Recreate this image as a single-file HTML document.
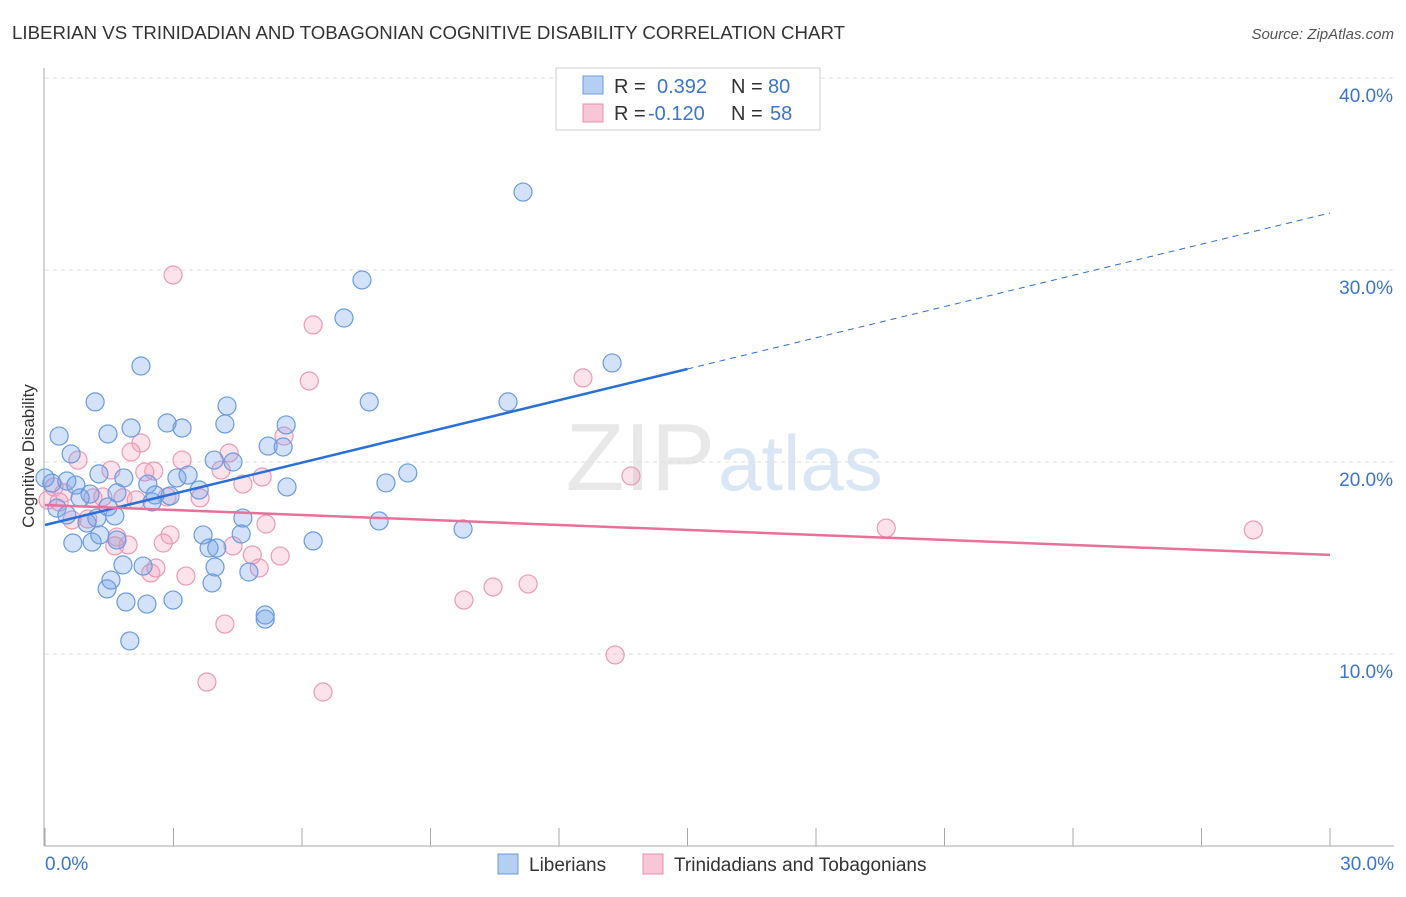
<!DOCTYPE html>
<html><head><meta charset="utf-8"><style>
body{margin:0;background:#fff;font-family:"Liberation Sans",sans-serif;}
svg text{font-family:"Liberation Sans",sans-serif;}
</style></head><body>
<svg id="chart" width="1406" height="892" xmlns="http://www.w3.org/2000/svg">
<text x="12" y="39" font-size="18" fill="#333" textLength="833" lengthAdjust="spacingAndGlyphs">LIBERIAN VS TRINIDADIAN AND TOBAGONIAN COGNITIVE DISABILITY CORRELATION CHART</text>
<text x="1394" y="39" font-size="15" fill="#555" text-anchor="end" font-style="italic">Source: ZipAtlas.com</text>
<text x="715" y="490" font-size="96" fill="#e8e8e8" text-anchor="end" font-family="Liberation Serif">ZIP</text>
<text x="718" y="490" font-size="78" fill="#dbe6f5">atlas</text>
<g id="grid"></g>
<g id="axes"></g>
<g id="marks"></g>
<text transform="translate(34,456) rotate(-90)" font-size="17" fill="#333" text-anchor="middle">Cognitive Disability</text>
<g>
<rect x="556" y="68" width="264" height="62" fill="#fff" stroke="#ccc"/>
<rect x="583" y="76" width="20" height="18" fill="#b5cff3" stroke="#6a9be0"/>
<rect x="583" y="104" width="20" height="18" fill="#f8c6d6" stroke="#e890b0"/>
<text x="614" y="93" font-size="20" fill="#333">R = </text><text x="657" y="93" font-size="20" fill="#3a75d0">0.392</text>
<text x="731" y="93" font-size="20" fill="#333">N = </text><text x="768" y="93" font-size="20" fill="#3a75d0">80</text>
<text x="614" y="120" font-size="20" fill="#333">R = </text><text x="648" y="120" font-size="20" fill="#3a75d0">-0.120</text>
<text x="731" y="120" font-size="20" fill="#333">N = </text><text x="770" y="120" font-size="20" fill="#3a75d0">58</text>
</g>
<g>
<rect x="498" y="854" width="20" height="20" fill="#b5cff3" stroke="#6a9be0"/>
<text x="529" y="871" font-size="19" fill="#333">Liberians</text>
<rect x="643" y="854" width="20" height="20" fill="#f8c6d6" stroke="#e890b0"/>
<text x="674" y="871" font-size="19" fill="#333">Trinidadians and Tobagonians</text>
</g>
</svg>
<script>
const blueX=[11.16,7.40,6.98,2.24,13.24,1.17,7.57,10.81,4.25,2.85,3.20,5.63,4.20,0.33,1.47,2.01,5.21,5.56,0.61,3.95,4.39,8.47,1.26,3.34,3.08,1.84,7.96,5.65,0.51,0.72,2.40,0,0.16,1.05,1.68,2.57,2.92,3.60,0.82,2.50,0.28,1.47,0.51,1.21,1.63,4.62,7.80,9.76,0.98,1.28,4.58,3.69,0.65,1.10,1.68,6.26,3.83,4.01,1.82,2.29,3.97,4.76,1.54,3.90,1.45,1.89,2.38,2.99,5.14,5.14,1.98];
const blueY=[34.06,29.48,27.5,25.0,25.16,23.13,23.13,23.13,22.92,22.03,21.77,21.93,21.98,21.35,21.46,21.77,20.83,20.78,20.42,20.1,20.0,19.43,19.38,19.32,19.17,19.17,18.91,18.7,19.01,18.8,18.85,19.17,18.9,18.33,18.39,18.28,18.23,18.54,18.13,17.92,17.6,17.66,17.24,17.08,17.19,17.08,16.93,16.51,16.82,16.2,16.25,16.2,15.78,15.83,15.94,15.89,15.52,15.52,14.64,14.58,14.53,14.27,13.85,13.7,13.39,12.71,12.6,12.81,12.03,11.82,10.68];
const pinkX=[2.99,6.26,6.17,12.56,5.58,2.24,4.30,2.01,0.77,3.20,4.11,2.54,2.33,1.54,5.07,13.68,4.62,0.21,0.44,1.35,1.82,2.85,3.62,2.13,0.07,0.33,1.12,0.63,1.0,5.16,19.64,28.21,2.92,1.68,2.76,1.94,1.63,4.39,4.84,5.49,5.00,2.59,2.47,3.29,11.28,10.46,9.78,4.20,13.31,3.78,6.49];
const pinkY=[29.74,27.14,24.22,24.38,21.35,20.99,20.47,20.52,20.1,20.1,19.58,19.53,19.48,19.58,19.22,19.27,18.85,18.7,18.39,18.18,18.13,18.18,18.13,18.02,18.02,17.92,18.13,16.98,17.03,16.77,16.56,16.46,16.2,16.09,15.78,15.68,15.63,15.63,15.16,15.1,14.48,14.48,14.22,14.06,13.65,13.49,12.81,11.56,9.95,8.54,8.02];
const yTicks=[10,20,30,40];
const yTickLabels=["10.0%","20.0%","30.0%","40.0%"];
const xTickLabels=["0.0%","30.0%"];
const blueTrend=[16.72,32.97];
const pinkTrend=[17.76,15.16];
const blueSolidEnd=15.0;
const NS="http://www.w3.org/2000/svg";
const sx=v=>45+v*1285/30, sy=v=>846-v*19.2;
function mk(t,a,p){const e=document.createElementNS(NS,t);for(const k in a)e.setAttribute(k,a[k]);p.appendChild(e);return e;}
const grid=document.getElementById('grid'),axes=document.getElementById('axes'),marks=document.getElementById('marks');
yTicks.forEach((v,i)=>{
 const l=mk('line',{x1:45,x2:1394,y1:sy(v),y2:sy(v),stroke:'#ddd','stroke-dasharray':'4,4'},grid);
 
 
 const t=mk('text',{x:1393,y:sy(v)+24,'font-size':19,fill:'#3a75d0','text-anchor':'end'},axes);t.textContent=yTickLabels[i];
 
 
});
mk('line',{x1:44,x2:44,y1:68,y2:846,stroke:'#aaa'},axes);
mk('line',{x1:44,x2:1394,y1:846,y2:846,stroke:'#aaa'},axes);
for(let i=0;i<=10;i++){const x=sx(i*3);const tk=mk('line',{x1:x,x2:x,y1:828,y2:846,stroke:'#aaa'},axes);
 
 }
let t0=mk('text',{x:45,y:870,'font-size':19,fill:'#3a75d0'},axes);t0.textContent=xTickLabels[0];


let t1=mk('text',{x:1394,y:870,'font-size':19,fill:'#3a75d0','text-anchor':'end'},axes);t1.textContent=xTickLabels[1];


pinkX.forEach((x,i)=>{const c=mk('circle',{cx:sx(x),cy:sy(pinkY[i]),r:9,fill:'rgba(242,160,190,0.3)',stroke:'#eb9ab8','stroke-width':1.2},marks);
 
 });
blueX.forEach((x,i)=>{const c=mk('circle',{cx:sx(x),cy:sy(blueY[i]),r:9,fill:'rgba(110,160,232,0.3)',stroke:'#6a9be0','stroke-width':1.2},marks);
 
 });
const by=x=>blueTrend[0]+(blueTrend[1]-blueTrend[0])*x/30;
let bl=mk('line',{x1:sx(0),y1:sy(by(0)),x2:sx(blueSolidEnd),y2:sy(by(blueSolidEnd)),stroke:'#2a6fd6','stroke-width':2.5},marks);


let bd=mk('line',{x1:sx(blueSolidEnd),y1:sy(by(blueSolidEnd)),x2:sx(30),y2:sy(by(30)),stroke:'#2a6fd6','stroke-width':1,'stroke-dasharray':'6,5'},marks);


let pl=mk('line',{x1:sx(0),y1:sy(pinkTrend[0]),x2:sx(30),y2:sy(pinkTrend[1]),stroke:'#e8709a','stroke-width':2.5},marks);


</script>
</body></html>
